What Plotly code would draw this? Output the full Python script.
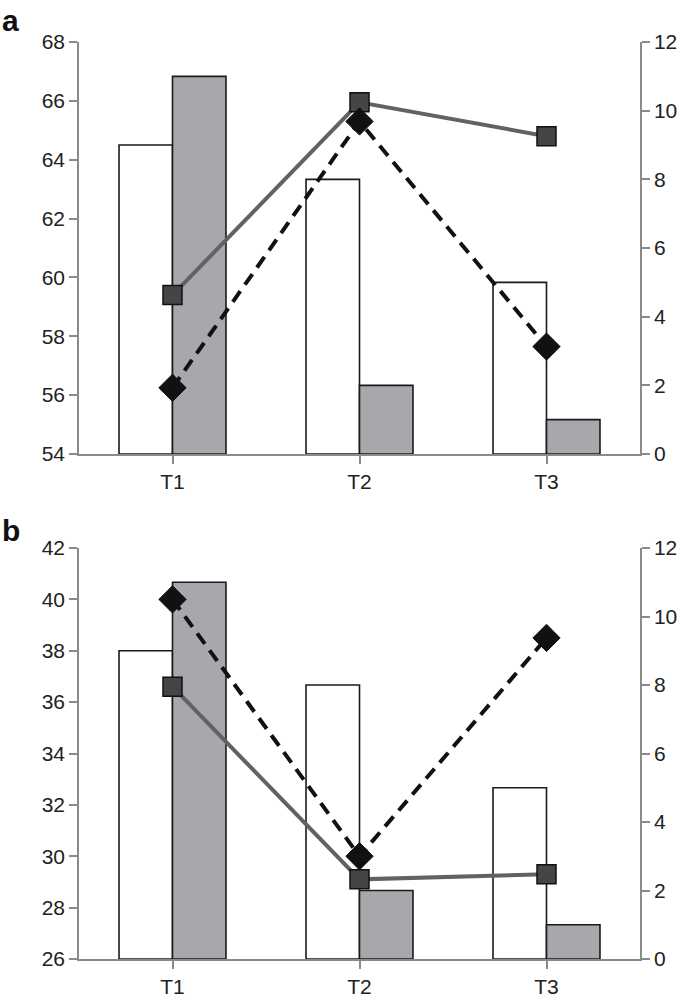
import plotly.graph_objects as go

categories = ["T1", "T2", "T3"]

# Bars (right axis, 0-12) – same in both panels
white_bars = [9, 8, 5]
gray_bars = [11, 2, 1]

# Panel a lines (left axis 54-68)
a_square = [59.4, 65.95, 64.8]
a_diamond = [56.25, 65.3, 57.65]

# Panel b lines (left axis 26-42)
b_square = [36.6, 29.1, 29.3]
b_diamond = [40.0, 30.0, 38.5]

left_ticks_a = [54, 56, 58, 60, 62, 64, 66, 68]
left_ticks_b = [26, 28, 30, 32, 34, 36, 38, 40, 42]
right_ticks = [0, 2, 4, 6, 8, 10, 12]

W, H = 685, 997
L, R, T, B = 79, 45, 42, 38
PW, PH = W - L - R, H - T - B
FONT = "Liberation Sans, Arial, sans-serif"
AXC = "#8a8a8a"


def ydom(top_px, bot_px):
    return [(H - B - bot_px) / PH, (H - B - top_px) / PH]


yd_a = ydom(42, 454)
yd_b = ydom(548, 959)

fig = go.Figure()


def add_panel(xa, ybar, yline, sq, di):
    xref = "x" if xa == 1 else f"x{xa}"
    fig.add_trace(go.Bar(x=categories, y=white_bars, xaxis=xref, yaxis=ybar,
                         marker=dict(color="white", line=dict(color="#1a1a1a", width=1.6)),
                         showlegend=False, offsetgroup="w"))
    fig.add_trace(go.Bar(x=categories, y=gray_bars, xaxis=xref, yaxis=ybar,
                         marker=dict(color="#a7a8ab", line=dict(color="#1a1a1a", width=1.6)),
                         showlegend=False, offsetgroup="g"))
    fig.add_trace(go.Scatter(x=categories, y=sq, xaxis=xref, yaxis=yline, mode="lines+markers",
                             line=dict(color="#626262", width=4),
                             marker=dict(symbol="square", size=19, color="#454545",
                                         line=dict(color="#111111", width=1.5)),
                             showlegend=False))
    fig.add_trace(go.Scatter(x=categories, y=di, xaxis=xref, yaxis=yline, mode="lines+markers",
                             line=dict(color="#111111", width=4, dash="13px,8px"),
                             marker=dict(symbol="diamond", size=21, color="#111111",
                                         line=dict(color="#111111", width=1)),
                             showlegend=False))


add_panel(1, "y", "y2", a_square, a_diamond)
add_panel(2, "y3", "y4", b_square, b_diamond)

tickfont = dict(family=FONT, size=21, color="#222222")

xcommon = dict(type="category", range=[-0.5, 2.5], showline=True, linecolor=AXC, linewidth=1.5,
               ticks="outside", ticklen=8, tickcolor=AXC, tickwidth=1.5, tickfont=tickfont,
               showgrid=False, zeroline=False, domain=[0, 1], fixedrange=True, automargin=False)


def yaxis(domain, rng, tickvals, side, overlay=None, anchor=None):
    d = dict(domain=domain, range=rng, tickvals=tickvals, side=side, showline=True,
             linecolor=AXC, linewidth=1.5, ticks="outside", ticklen=8, tickcolor=AXC,
             tickwidth=1.5, tickfont=tickfont, showgrid=False, zeroline=False,
             fixedrange=True, automargin=False)
    if overlay:
        d["overlaying"] = overlay
    if anchor:
        d["anchor"] = anchor
    return d


def px_to_paper(xp, yp):
    return (xp - L) / PW, (H - B - yp) / PH


ax_a, ay_a = px_to_paper(0, 20)
ax_b, ay_b = px_to_paper(0, 530)

fig.update_layout(
    width=W, height=H,
    margin=dict(l=L, r=R, t=T, b=B, autoexpand=False),
    plot_bgcolor="white", paper_bgcolor="white",
    barmode="group", bargap=0.428, bargroupgap=0,
    xaxis=dict(**xcommon, anchor="y"),
    xaxis2=dict(**xcommon, anchor="y3"),
    yaxis=yaxis(yd_a, [0, 12], right_ticks, "right", anchor="x"),
    yaxis2=yaxis(yd_a, [54, 68], left_ticks_a, "left", overlay="y", anchor="x"),
    yaxis3=yaxis(yd_b, [0, 12], right_ticks, "right", anchor="x2"),
    yaxis4=yaxis(yd_b, [26, 42], left_ticks_b, "left", overlay="y3", anchor="x2"),
    annotations=[
        dict(text="<b>a</b>", x=ax_a, y=ay_a, xref="paper", yref="paper",
             showarrow=False, xanchor="left", yanchor="middle",
             font=dict(family=FONT, size=30, color="#111111")),
        dict(text="<b>b</b>", x=ax_b, y=ay_b, xref="paper", yref="paper",
             showarrow=False, xanchor="left", yanchor="middle",
             font=dict(family=FONT, size=30, color="#111111")),
    ],
)

fig.write_html("out.html", config={"displayModeBar": False},
               post_script="document.body.style.margin='0px';document.body.style.overflow='hidden';")
